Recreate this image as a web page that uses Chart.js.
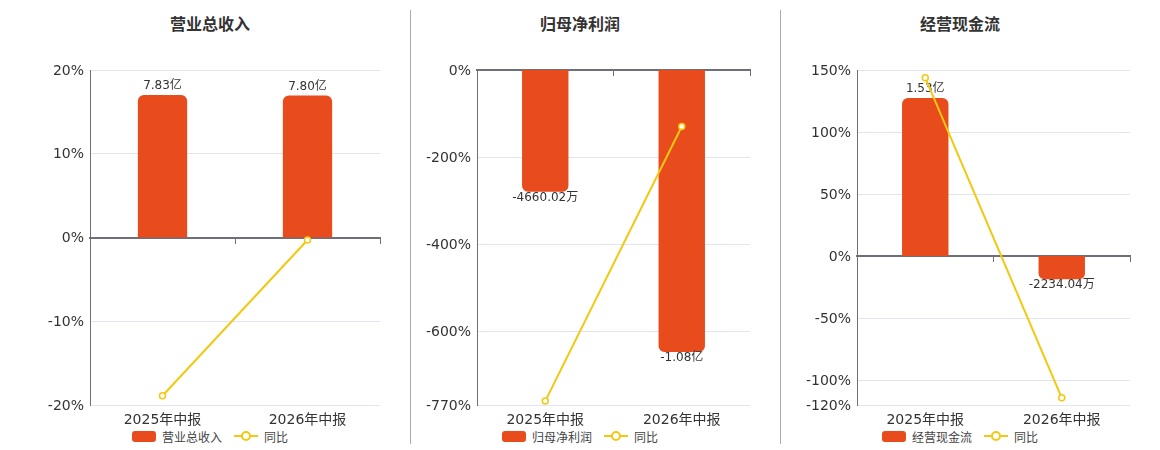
<!DOCTYPE html>
<html>
<head>
<meta charset="utf-8">
<script src="https://cdn.jsdelivr.net/npm/chart.js@4.4.1/dist/chart.umd.min.js"></script>
<style>
body{margin:0;background:#fff;width:1160px;height:450px;overflow:hidden;position:relative;font-family:"DejaVu Sans","Noto Sans CJK SC",sans-serif;}
.sep{position:absolute;top:10px;height:434px;width:0;border-left:1px solid #aaa;}
.title{position:absolute;top:11px;transform:translateX(-50%);font:bold 16px "Noto Sans CJK SC",sans-serif;color:#333;white-space:nowrap;}
canvas{position:absolute;top:40px;}
.legend{position:absolute;top:428px;height:16px;transform:translateX(-50%);font:12px "Noto Sans CJK SC",sans-serif;color:#444;white-space:nowrap;display:flex;align-items:center;}
.box{display:inline-block;width:24px;height:11px;border-radius:3px;background:#e84b1c;margin-right:6px;}
.ln{position:relative;display:inline-block;width:24px;height:12px;margin:0 6px 0 12px;}
.ln:before{content:"";position:absolute;left:0;right:0;top:5px;height:2px;background:#f2c811;}
.ln:after{content:"";position:absolute;left:7px;top:1px;width:6px;height:6px;border:2px solid #f2c811;border-radius:50%;background:#fff;}
</style>
</head>
<body>

<div class="sep" style="left:410px"></div>
<div class="sep" style="left:780px"></div>

<div class="title" style="left:210px">营业总收入</div>
<div class="title" style="left:580px">归母净利润</div>
<div class="title" style="left:960px">经营现金流</div>

<canvas id="c1" width="410" height="388" style="left:0px"></canvas>
<canvas id="c2" width="370" height="388" style="left:410px"></canvas>
<canvas id="c3" width="380" height="388" style="left:780px"></canvas>

<div class="legend" style="left:210px"><span class="box"></span>营业总收入<span class="ln"></span>同比</div>
<div class="legend" style="left:580px"><span class="box"></span>归母净利润<span class="ln"></span>同比</div>
<div class="legend" style="left:960px"><span class="box"></span>经营现金流<span class="ln"></span>同比</div>

<script>
const categories = ["2025年中报", "2026年中报"];

/* 营业总收入 (亿) + 同比 (%) */
const revenue = [7.83, 7.80];
const revenueLabels = ["7.83亿", "7.80亿"];
const revenueYoy = [-18.9, -0.3];
const revenueTicks = [20, 10, 0, -10, -20];

/* 归母净利润 (亿) + 同比 (%) */
const profit = [-0.466, -1.08];
const profitLabels = ["-4660.02万", "-1.08亿"];
const profitYoy = [-761, -130];
const profitTicks = [0, -200, -400, -600, -770];

/* 经营现金流 (亿) + 同比 (%) */
const cash = [1.53, -0.2234];
const cashLabels = ["1.53亿", "-2234.04万"];
const cashYoy = [143.7, -114.2];
const cashTicks = [150, 100, 50, 0, -50, -100, -120];

const ORANGE = "#e84b1c";
const YELLOW = "#f2c811";
const AXIS = "#6e7079";

Chart.defaults.font.family = '"DejaVu Sans","Noto Sans CJK SC",sans-serif';

/* value labels on the bars, drawn before the line */
const barLabelPlugin = {
id: "barLabels",
afterDatasetDraw(chart, args, opts) {
let ds = chart.data.datasets[args.index];
if (ds.type !== "bar") return;
let ctx = chart.ctx;
ctx.save();
ctx.font = '12px "DejaVu Sans","Noto Sans CJK SC",sans-serif';
ctx.fillStyle = "#333";
ctx.textAlign = "center";
args.meta.data.forEach((el, i) => {
if (ds.data[i] >= 0) {
ctx.textBaseline = "bottom";
ctx.fillText(opts.labels[i], el.x, el.y - 3);
} else {
ctx.textBaseline = "top";
ctx.fillText(opts.labels[i], el.x, el.y);
}
});
ctx.restore();
}
};

function makeChart(id, name, bars, barLabels, yoy, ticks, barMin, barMax, axisWidth) {
new Chart(document.getElementById(id), {
data: {
labels: categories,
datasets: [
{
type: "line",
label: "同比",
data: yoy,
yAxisID: "y",
order: 0,
borderColor: YELLOW,
borderWidth: 2,
pointRadius: 3,
pointBorderWidth: 1.5,
pointBackgroundColor: "#fff",
pointBorderColor: YELLOW,
tension: 0
},
{
type: "bar",
label: name,
data: bars,
yAxisID: "y2",
order: 1,
backgroundColor: ORANGE,
borderRadius: 6,
borderSkipped: "start",
barPercentage: 0.34,
categoryPercentage: 1
}
]
},
options: {
responsive: false,
maintainAspectRatio: false,
animation: false,
layout: { padding: { top: 30, right: 30, left: 0, bottom: 0 } },
plugins: {
legend: { display: false },
tooltip: { enabled: false },
barLabels: { labels: barLabels }
},
scales: {
x: {
type: "category",
offset: true,
grid: { display: false, drawTicks: false },
border: { display: false },
ticks: { color: "#333", font: { size: 14 }, padding: 7, maxRotation: 0 },
afterFit: s => { s.height = 23; }
},
x2: {
type: "category",
position: { y: 0 },
offset: true,
grid: { offset: true, drawOnChartArea: false, tickLength: 5, color: AXIS },
border: { color: AXIS, width: 2 },
ticks: { display: false }
},
y: {
min: ticks[ticks.length - 1],
max: ticks[0],
afterBuildTicks: s => { s.ticks = ticks.map(v => ({ value: v })); },
grid: {
color: c => c.tick && c.tick.value === 0 ? AXIS : "#e0e6f1",
drawTicks: false
},
border: { color: AXIS },
ticks: { color: "#333", font: { size: 14 }, padding: 6, labelOffset: 1, callback: v => v + "%" },
afterFit: s => { s.width = axisWidth; }
},
y2: { display: false, min: barMin, max: barMax }
}
},
plugins: [barLabelPlugin]
});
}

makeChart("c1", "营业总收入", revenue, revenueLabels, revenueYoy, revenueTicks, -9.2, 9.2, 90);
makeChart("c2", "归母净利润", profit, profitLabels, profitYoy, profitTicks, -1.283, 0, 67);
makeChart("c3", "经营现金流", cash, cashLabels, cashYoy, cashTicks, -1.44, 1.80, 77);
</script>
</body>
</html>
